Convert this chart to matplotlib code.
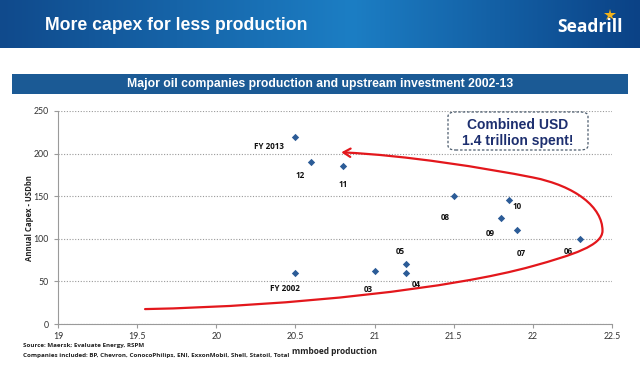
import numpy as np
import matplotlib
matplotlib.use("Agg")
import matplotlib.pyplot as plt
from matplotlib.path import Path
from matplotlib.patches import FancyArrowPatch, FancyBboxPatch, Rectangle

# --- data ---
year_labels = ["FY 2002", "03", "04", "05", "06", "07", "08", "09", "10", "11", "12", "FY 2013"]
production = [20.5, 21.0, 21.2, 21.2, 22.3, 21.9, 21.5, 21.8, 21.85, 20.8, 20.6, 20.5]
capex = [60, 62, 60, 70, 100, 110, 150, 125, 145, 185, 190, 220]

x_ticks = [19, 19.5, 20, 20.5, 21, 21.5, 22, 22.5]
y_ticks = [0, 50, 100, 150, 200, 250]

# label offsets (pixels) from each point
label_offsets = [(-10, -16), (-6, -18), (10, -12), (-6, 13), (-12, -13), (4, -23),
                 (-8, -21), (-11, -16), (8, -6), (0, -18), (-11, -13), (-26, -10)]

# red "loop" arrow: bezier control points in data units
arrow_pts = [(19.55, 17.5), (20.5, 21), (21.5, 42), (22.0, 68),
             (22.25, 81), (22.44, 92), (22.44, 109.5),
             (22.44, 137), (22.27, 162), (22.0, 172),
             (21.7, 183), (21.2, 198), (20.79, 201.5)]

W, H = 640, 368
fig = plt.figure(figsize=(W / 100, H / 100), dpi=100)
fig.patch.set_facecolor("white")

# --- header band with gradient ---
hax = fig.add_axes([0, 1 - 48 / H, 1, 48 / H])
t = np.linspace(0, 1, 256)
left = np.array([0x10, 0x4a, 0x8c]) / 255
mid = np.array([0x1c, 0x7e, 0xc4]) / 255
right = np.array([0x0b, 0x42, 0x86]) / 255
grad = np.zeros((1, 256, 3))
for i, v in enumerate(t):
    if v < 0.55:
        f = v / 0.55
        grad[0, i] = left * (1 - f) + mid * f
    else:
        f = (v - 0.55) / 0.45
        grad[0, i] = mid * (1 - f) + right * f
hax.imshow(grad, aspect="auto", extent=[0, 1, 0, 1])
hax.set_xlim(0, 1)
hax.set_ylim(0, 1)
hax.axis("off")
# yellow star over the "i" of the logo
hax.plot([610 / W], [1 - 15 / 48], marker="*", markersize=9, color="#f2b21b",
         markeredgewidth=0, zorder=3)

fig.text(45 / W, 1 - 26 / H, "More capex for less production", color="white",
         fontsize=12.7, fontweight="bold", family="Liberation Sans", va="center", ha="left")
fig.text(623 / W, 1 - 27 / H, "Seadrill", color="white", fontsize=12.5,
         fontweight="bold", family="Open Sans", va="center", ha="right")

# --- subtitle band ---
fig.patches.append(Rectangle((12 / W, 1 - 94 / H), 616 / W, 20 / H,
                             transform=fig.transFigure, facecolor="#1b5a95",
                             edgecolor="none"))
fig.text(320 / W, 1 - 84 / H,
         "Major oil companies production and upstream investment 2002-13",
         color="white", fontsize=8.8, fontweight="bold", family="Liberation Sans",
         va="center", ha="center")

# --- scatter chart ---
ax = fig.add_axes([58 / W, 1 - 324 / H, 554 / W, 213 / H])
ax.set_xlim(19, 22.5)
ax.set_ylim(0, 250)
ax.set_xticks(x_ticks)
ax.set_xticklabels([f"{v:g}" for v in x_ticks])
ax.set_yticks(y_ticks)
ax.grid(axis="y", linestyle=(0, (1, 1.5)), color="#9a9a9a", linewidth=0.8)
ax.set_axisbelow(True)
for s in ["top", "right"]:
    ax.spines[s].set_visible(False)
for s in ["left", "bottom"]:
    ax.spines[s].set_color("#9a9a9a")
    ax.spines[s].set_linewidth(0.8)
ax.tick_params(axis="both", labelsize=6.3, colors="#9a9a9a", labelcolor="#333333",
               length=3, width=0.8, direction="out")
ax.tick_params(axis="x", pad=3)
for lbl in ax.get_xticklabels() + ax.get_yticklabels():
    lbl.set_family("Lato")

ax.scatter(production, capex, marker="D", s=14, color="#2c5c97", zorder=3, linewidths=0)

for name, x, y, off in zip(year_labels, production, capex, label_offsets):
    ax.annotate(name, (x, y), xytext=off, textcoords="offset pixels",
                ha="center", va="center", fontsize=5.8, fontweight="bold",
                family="Open Sans", color="#111111")

codes = [Path.MOVETO] + [Path.CURVE4] * (len(arrow_pts) - 1)
loop = Path(arrow_pts, codes)
arrow = FancyArrowPatch(path=loop, arrowstyle="->,head_length=5,head_width=3",
                        color="#e3171c", linewidth=1.6, transform=ax.transData,
                        zorder=4, mutation_scale=1)
ax.add_patch(arrow)

# callout box
box = FancyBboxPatch((448 / W, 1 - 150 / H), 140 / W, 38 / H,
                     boxstyle="round,pad=0,rounding_size=0.012",
                     transform=fig.transFigure, facecolor="white",
                     edgecolor="#4d5d6e", linewidth=0.9, linestyle=(0, (2, 1.5)))
fig.patches.append(box)
fig.text(518 / W, 1 - 125 / H, "Combined USD", color="#1d2f6f", fontsize=10,
         fontweight="bold", family="Liberation Sans", ha="center", va="center")
fig.text(518 / W, 1 - 140.5 / H, "1.4 trillion spent!", color="#1d2f6f", fontsize=10,
         fontweight="bold", family="Liberation Sans", ha="center", va="center")

# axis titles and notes
fig.text(29 / W, 1 - 218 / H, "Annual Capex - USDbn", rotation=90, fontsize=5.6,
         fontweight="bold", family="Open Sans", color="#222222", ha="center", va="center")
fig.text(335 / W, 1 - 351 / H, "mmboed production", fontsize=6,
         fontweight="bold", family="Open Sans", color="#222222", ha="center", va="center")
fig.text(23 / W, 1 - 346 / H, "Source: Maersk; Evaluate Energy, RSPM", fontsize=4.5,
         fontweight="bold", family="Open Sans", color="#222222", ha="left", va="center")
fig.text(23 / W, 1 - 355 / H,
         "Companies included: BP, Chevron, ConocoPhilips, ENI, ExxonMobil, Shell, Statoil, Total",
         fontsize=4.5, fontweight="bold", family="Open Sans", color="#222222",
         ha="left", va="center")

fig.savefig("out.png", dpi=100)
